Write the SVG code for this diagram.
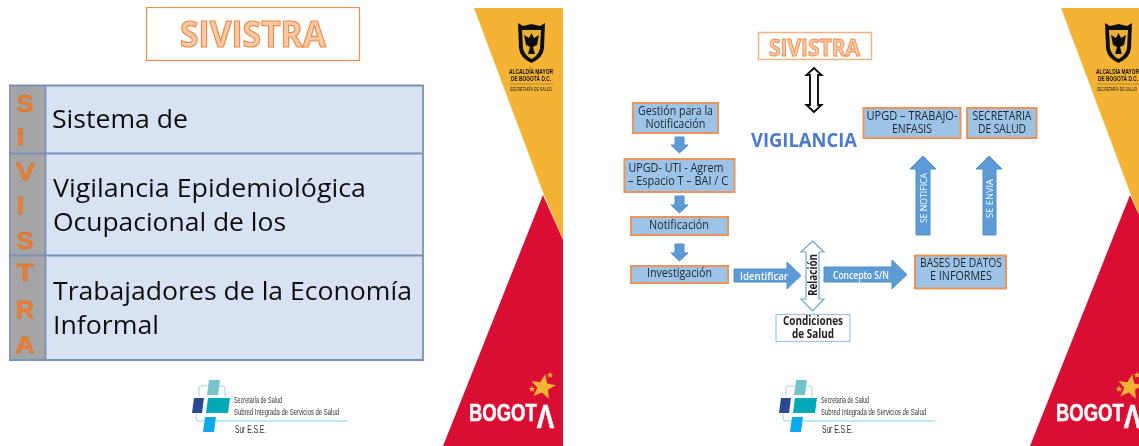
<svg xmlns="http://www.w3.org/2000/svg" width="1139" height="446" viewBox="0 0 1139 446">
<style>
text{font-family:"Open Sans","Noto Sans","Liberation Sans",sans-serif}
.t{font-size:25px;fill:#111}
.title{font-weight:700;fill:#f9c9a6;stroke:#ee8a47;stroke-width:1.2;text-anchor:middle}
.col{font-family:"Liberation Sans",sans-serif;font-weight:700;font-size:23px;fill:#ed7d31;stroke:#c9661f;stroke-width:.3;text-anchor:middle}
.box{fill:#9dc3e6;stroke:#f0935a;stroke-width:2}
.bt{font-size:12.5px;fill:#1c2733;text-anchor:middle}
.ar{fill:#5b9bd5;stroke:#4f8fcb;stroke-width:1}
.wt{fill:#fff;font-weight:600;text-anchor:middle}
.logo{font-family:"Liberation Sans",sans-serif;fill:#333;font-size:8.5px}
.sur{font-size:10px}
.b1{font-family:"Liberation Sans",sans-serif;font-weight:700;font-size:7px;fill:#111;text-anchor:middle}
.b2{font-family:"Liberation Sans",sans-serif;font-size:5px;fill:#222;text-anchor:middle}
.bog{font-family:"Liberation Sans",sans-serif;font-size:24px;font-weight:700;fill:#fff;stroke:#fff;stroke-width:.5}
</style>
<defs>
<filter id="soft" x="0" y="0" width="100%" height="100%"><feGaussianBlur stdDeviation="0.35"/></filter>
<g id="shield">
<path d="M518 23 L523 26 L531.500 24 L540 26 L545 23 L544 48 Q543 58 531.500 63 Q520 58 519 48 Z" fill="#111"/>
<path d="M522 30 L541 30 L540 48 Q539 55 531.500 59 Q524 55 523 48 Z" fill="#e9b233"/>
<path d="M531.500 33 L534 38 L539 35 L537 45 L533 47 L535 54 L528 54 L530 47 L526 45 L524 35 L529 38 Z" fill="#111"/>
</g>
<g id="star"><path d="M0 -1 L.27 -.32 L.95 -.31 L.42 .13 L.59 .81 L0 .43 L-.59 .81 L-.42 .13 L-.95 -.31 L-.27 -.32 Z" fill="#f5b335"/></g>
<g id="mark">
<path d="M199 396 V388 Q199 386 201 386 H207 M219 386 H223 Q225 386 225 389 V397 M196 414 V418 Q196 421 199 421 H204" fill="none" stroke="#8cc8d4" stroke-width=".8"/>
<path d="M209 380 H220 L218 395 H207 Z" fill="#75c3cb"/>
<path d="M194 398 H204 L202 413 H192 Z" fill="#2a4a94"/>
<path d="M208 398 H230 L228 413 H206 Z" fill="#00a7b5"/>
<path d="M205 417 H216 L214 432 H203 Z" fill="#0aa9ec"/>
<path d="M215 421 H348" stroke="#7fd3f0" stroke-width="1.200"/>
</g>
</defs>
<g filter="url(#soft)">
<g id="left-slide-brand">
<path d="M474 8 H563 V240 L544 195 Z" fill="#f5b335"/>
<path d="M543 195 L563 240 V446 H443 Z" fill="#da1131"/>
<use href="#shield"/>
<text class="b1" x="531" y="73.500" textLength="44" lengthAdjust="spacingAndGlyphs">ALCALDÍA MAYOR</text>
<text class="b1" x="531" y="81" textLength="40" lengthAdjust="spacingAndGlyphs">DE BOGOTÁ D.C.</text>
<path d="M510 84 H553" stroke="#8a6a20" stroke-width=".6"/>
<text class="b2" x="531" y="91" textLength="42" lengthAdjust="spacingAndGlyphs">SECRETARÍA DE SALUD</text>
<use href="#mark"/>
<text class="logo" x="234" y="403" textLength="48" lengthAdjust="spacingAndGlyphs">Secretaría de Salud</text>
<text class="logo" x="234" y="414.500" textLength="105" lengthAdjust="spacingAndGlyphs">Subred Integrada de Servicios de Salud</text>
<text class="logo sur" x="235" y="433" textLength="31" lengthAdjust="spacingAndGlyphs">Sur E.S.E.</text>
<text class="bog" transform="translate(469 420.500) scale(.77 1)">BOGOT<tspan dy="7.500" font-size="34">Λ</tspan></text>
<use href="#star" transform="translate(543 387) rotate(10) scale(13)"/>
<use href="#star" transform="translate(550 375) scale(3.500)"/>
<use href="#star" transform="translate(532 389) scale(3.500)"/>
</g>
<g id="sivistra-title">
<rect x="146.500" y="7.500" width="213" height="53" fill="#fff" stroke="#f28c4d" stroke-width="1.200"/>
<text class="title" x="253" y="47" font-size="36" textLength="146" lengthAdjust="spacingAndGlyphs">SIVISTRA</text>
</g>
<g id="sivistra-table">
<rect x="9" y="85" width="414" height="275" fill="#d9e2f3"/>
<rect x="9" y="85" width="36" height="275" fill="#a5a5a5"/>
<path d="M9.500 85.500 H423 V360 H9.500 Z M45.500 85.500 V360 M9.500 153.500 H423 M9.500 255.500 H423" fill="none" stroke="#7a8fb8" stroke-width="1.800"/>
<text class="col" x="25" y="112" textLength="17" lengthAdjust="spacingAndGlyphs">S</text>
<text class="col" x="20.500" y="145" textLength="7" lengthAdjust="spacingAndGlyphs">I</text>
<text class="col" x="25.500" y="180" textLength="19" lengthAdjust="spacingAndGlyphs">V</text>
<text class="col" x="20.500" y="214" textLength="7" lengthAdjust="spacingAndGlyphs">I</text>
<text class="col" x="25" y="249" textLength="17" lengthAdjust="spacingAndGlyphs">S</text>
<text class="col" x="25" y="281" textLength="17" lengthAdjust="spacingAndGlyphs">T</text>
<text class="col" x="25" y="318" textLength="18" lengthAdjust="spacingAndGlyphs">R</text>
<text class="col" x="25" y="353" textLength="19" lengthAdjust="spacingAndGlyphs">A</text>
<text class="t" x="52" y="128" textLength="136" lengthAdjust="spacingAndGlyphs">Sistema de</text>
<text class="t" x="53" y="197" textLength="313" lengthAdjust="spacingAndGlyphs">Vigilancia Epidemiológica</text>
<text class="t" x="53" y="231" textLength="233" lengthAdjust="spacingAndGlyphs">Ocupacional de los</text>
<text class="t" x="53" y="300" textLength="359" lengthAdjust="spacingAndGlyphs">Trabajadores de la Economía</text>
<text class="t" x="53" y="334" textLength="106" lengthAdjust="spacingAndGlyphs">Informal</text>
</g>
<g id="right-slide-brand">
<path d="M1061 8 H1139 V215 L1131 195 Z" fill="#f5b335"/>
<path d="M1130 195 L1139 215 V446 H1030 Z" fill="#da1131"/>
<use href="#shield" x="587"/>
<text class="b1" x="1117.500" y="73.500" textLength="43" lengthAdjust="spacingAndGlyphs">ALCALDÍA MAYOR</text>
<text class="b1" x="1118" y="81" textLength="40" lengthAdjust="spacingAndGlyphs">DE BOGOTÁ D.C.</text>
<path d="M1097 84 H1139" stroke="#8a6a20" stroke-width=".6"/>
<text class="b2" x="1117" y="91" textLength="40" lengthAdjust="spacingAndGlyphs">SECRETARÍA DE SALUD</text>
<use href="#mark" x="587"/>
<text class="logo" x="821" y="403" textLength="48" lengthAdjust="spacingAndGlyphs">Secretaría de Salud</text>
<text class="logo" x="821" y="414.500" textLength="105" lengthAdjust="spacingAndGlyphs">Subred Integrada de Servicios de Salud</text>
<text class="logo sur" x="822" y="433" textLength="31" lengthAdjust="spacingAndGlyphs">Sur E.S.E.</text>
<text class="bog" transform="translate(1056 420.500) scale(.77 1)">BOGOT<tspan dy="7.500" font-size="34">Λ</tspan></text>
<use href="#star" transform="translate(1130 387) rotate(10) scale(13)"/>
<use href="#star" transform="translate(1137 375) scale(3.500)"/>
<use href="#star" transform="translate(1119 389) scale(3.500)"/>
</g>
<g id="connectors">
<path d="M814 112 L806.500 105 H810 V75 H806.500 L814 68 L821.500 75 H818 V105 H821.500 Z" fill="#fff" stroke="#000" stroke-width="1.800"/>
<path class="ar" d="M675 137 H684 V145 H688 L679.500 153 L671 145 H675 Z"/>
<path class="ar" d="M675 196 H684 V205 H688 L679.500 213 L671 205 H675 Z"/>
<path class="ar" d="M675 244 H684 V253 H688 L679.500 261 L671 253 H675 Z"/>
<path class="ar" d="M734 269 H787 V262 L801 275.500 L787 289 V282 H734 Z"/>
<text class="wt" x="764" y="279.500" font-size="11.500" textLength="48" lengthAdjust="spacingAndGlyphs">Identificar</text>
<path d="M812.500 241 L824 252 H819 V299 H824 L812.500 311 L801 299 H806 V252 H801 Z" fill="#fff" stroke="#6fa5d8" stroke-width="1.200"/>
<text transform="translate(817 296) rotate(-90)" font-size="11.500" font-weight="700" fill="#222" textLength="42" lengthAdjust="spacingAndGlyphs">Relación</text>
<path class="ar" d="M824 267 H892 V260 L907 274.500 L892 289 V282 H824 Z"/>
<text class="wt" x="861" y="278.500" font-size="10.500" textLength="56" lengthAdjust="spacingAndGlyphs">Concepto S/N</text>
<path class="ar" d="M916 235 V169 H910 L923 156 L936 169 H930 V235 Z"/>
<text class="wt" transform="translate(927 223) rotate(-90)" font-size="9.500" style="text-anchor:start;font-weight:400" textLength="50" lengthAdjust="spacingAndGlyphs">SE NOTIFICA</text>
<path class="ar" d="M983 235 V169 H976 L989 156 L1002 169 H996 V235 Z"/>
<text class="wt" transform="translate(993 218) rotate(-90)" font-size="9.500" style="text-anchor:start;font-weight:400" textLength="39" lengthAdjust="spacingAndGlyphs">SE  ENVIA</text>
</g>
<g id="node-sivistra"><rect x="758.500" y="32.500" width="113" height="27" fill="#fff" stroke="#f4b183" stroke-width="1.500"/><text class="title" x="814.500" y="55.500" font-size="23" style="stroke-width:.9" textLength="91" lengthAdjust="spacingAndGlyphs">SIVISTRA</text></g>
<g id="node-vigilancia"><text x="804" y="147" font-size="20" font-weight="700" fill="#4a7bcc" text-anchor="middle" textLength="106" lengthAdjust="spacingAndGlyphs">VIGILANCIA</text></g>
<g id="node-gestion"><rect class="box" x="633" y="103" width="85" height="30"/><text class="bt" x="675.500" y="115" textLength="75" lengthAdjust="spacingAndGlyphs">Gestión para la</text><text class="bt" x="675.500" y="128" textLength="60" lengthAdjust="spacingAndGlyphs">Notificación</text></g>
<g id="node-upgd"><rect class="box" x="624.500" y="159" width="110" height="33"/><text class="bt" x="676" y="171.500" textLength="95" lengthAdjust="spacingAndGlyphs">UPGD- UTI - Agrem</text><text class="bt" x="678" y="184.500" textLength="100" lengthAdjust="spacingAndGlyphs">– Espacio T – BAI / C</text></g>
<g id="node-notificacion"><rect class="box" x="631" y="217" width="97" height="18"/><text class="bt" x="679" y="228.500" textLength="60" lengthAdjust="spacingAndGlyphs">Notificación</text></g>
<g id="node-investigacion"><rect class="box" x="631" y="266" width="97" height="17"/><text class="bt" x="679.500" y="277" textLength="65" lengthAdjust="spacingAndGlyphs">Investigación</text></g>
<g id="node-condiciones"><rect x="776" y="314.500" width="74" height="27" fill="#fff" stroke="#9dc3e6" stroke-width="1.200"/><text x="813" y="325" font-size="11.500" font-weight="700" fill="#222" text-anchor="middle" textLength="60" lengthAdjust="spacingAndGlyphs">Condiciones</text><text x="813" y="338" font-size="11.500" font-weight="700" fill="#222" text-anchor="middle" textLength="42" lengthAdjust="spacingAndGlyphs">de Salud</text></g>
<g id="node-bases"><rect class="box" x="915" y="255.500" width="91" height="33"/><text class="bt" x="961" y="267" textLength="82" lengthAdjust="spacingAndGlyphs">BASES DE DATOS</text><text class="bt" x="961" y="280" textLength="62" lengthAdjust="spacingAndGlyphs">E INFORMES</text></g>
<g id="node-upgd-trabajo"><rect class="box" x="863.500" y="108" width="97" height="30"/><text class="bt" x="912" y="120" textLength="91" lengthAdjust="spacingAndGlyphs">UPGD – TRABAJO-</text><text class="bt" x="912" y="133" textLength="40" lengthAdjust="spacingAndGlyphs">ENFASIS</text></g>
<g id="node-secretaria"><rect class="box" x="967" y="108" width="69.500" height="30"/><text class="bt" x="1002" y="120" textLength="59" lengthAdjust="spacingAndGlyphs">SECRETARIA</text><text class="bt" x="1002" y="133" textLength="48" lengthAdjust="spacingAndGlyphs">DE SALUD</text></g>
</g>
</svg>
